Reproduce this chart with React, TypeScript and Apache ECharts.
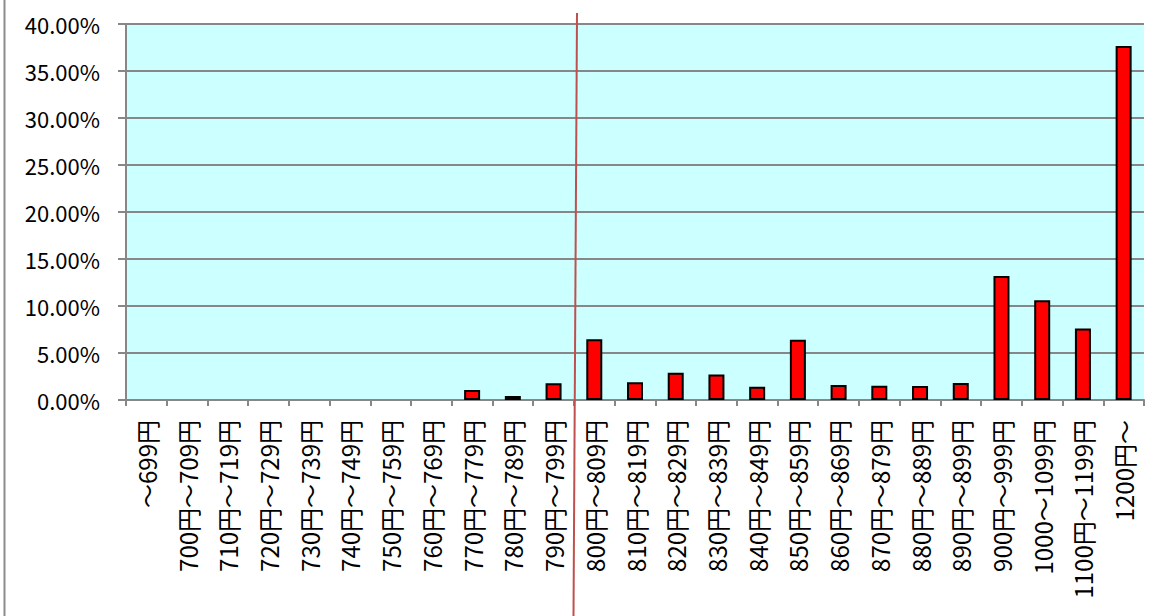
import React, { useEffect, useRef } from "react";
import * as echarts from "echarts";

const categories = [
  "～699円",
  "700円～709円",
  "710円～719円",
  "720円～729円",
  "730円～739円",
  "740円～749円",
  "750円～759円",
  "760円～769円",
  "770円～779円",
  "780円～789円",
  "790円～799円",
  "800円～809円",
  "810円～819円",
  "820円～829円",
  "830円～839円",
  "840円～849円",
  "850円～859円",
  "860円～869円",
  "870円～879円",
  "880円～889円",
  "890円～899円",
  "900円～999円",
  "1000～1099円",
  "1100円～1199円",
  "1200円～",
];

const shares = [
  0, 0, 0, 0, 0, 0, 0, 0, 1.06, 0.43, 1.77, 6.45, 1.88, 2.9, 2.72, 1.42, 6.42,
  1.6, 1.52, 1.49, 1.8, 13.2, 10.6, 7.6, 37.66,
];

const yTicks = { min: 0, max: 40, interval: 5 };

export default function App() {
  const ref = useRef<HTMLDivElement>(null);
  useEffect(() => {
    if (!ref.current) return;
    const chart = echarts.init(ref.current, undefined, { renderer: "svg" });
    const font = "'Noto Sans CJK JP', 'Noto Sans', sans-serif";
    chart.setOption({
      animation: false,
      backgroundColor: "#ffffff",
      grid: {
        left: 126,
        top: 24,
        right: 19,
        bottom: 216,
        show: true,
        backgroundColor: "#CCFFFF",
        borderWidth: 0,
      },
      xAxis: {
        type: "category",
        data: categories,
        axisLine: { lineStyle: { color: "#878787", width: 2 } },
        axisTick: {
          show: true,
          length: 6,
          lineStyle: { color: "#878787", width: 2 },
        },
        axisLabel: {
          rotate: 90,
          interval: 0,
          margin: 20,
          color: "#000",
          fontFamily: font,
          fontSize: 24,
        },
      },
      yAxis: {
        type: "value",
        min: yTicks.min,
        max: yTicks.max,
        interval: yTicks.interval,
        axisLine: { show: true, lineStyle: { color: "#878787", width: 2 } },
        axisTick: {
          show: true,
          length: 8,
          lineStyle: { color: "#878787", width: 2 },
        },
        splitLine: { lineStyle: { color: "#878787", width: 2 } },
        axisLabel: {
          margin: 26,
          color: "#000",
          fontFamily: font,
          fontSize: 22,
          formatter: (v: number) => v.toFixed(2) + "%",
        },
      },
      series: [
        {
          type: "bar",
          data: shares.map((v) => (v === 0 ? null : v)),
          barWidth: 16,
          itemStyle: { color: "#FF0000", borderColor: "#000", borderWidth: 2 },
        },
      ],
      graphic: [
        {
          type: "line",
          shape: { x1: 4.5, y1: 0, x2: 4.5, y2: 616 },
          style: { stroke: "#8c8c8c", lineWidth: 2 },
        },
        {
          type: "line",
          shape: { x1: 577, y1: 13, x2: 573.5, y2: 616 },
          style: { stroke: "#C0504D", lineWidth: 2 },
          z: 100,
        },
      ],
    });
    return () => chart.dispose();
  }, []);
  return (
    <div
      ref={ref}
      style={{ position: "absolute", left: 0, top: 0, width: 1163, height: 616 }}
    />
  );
}
